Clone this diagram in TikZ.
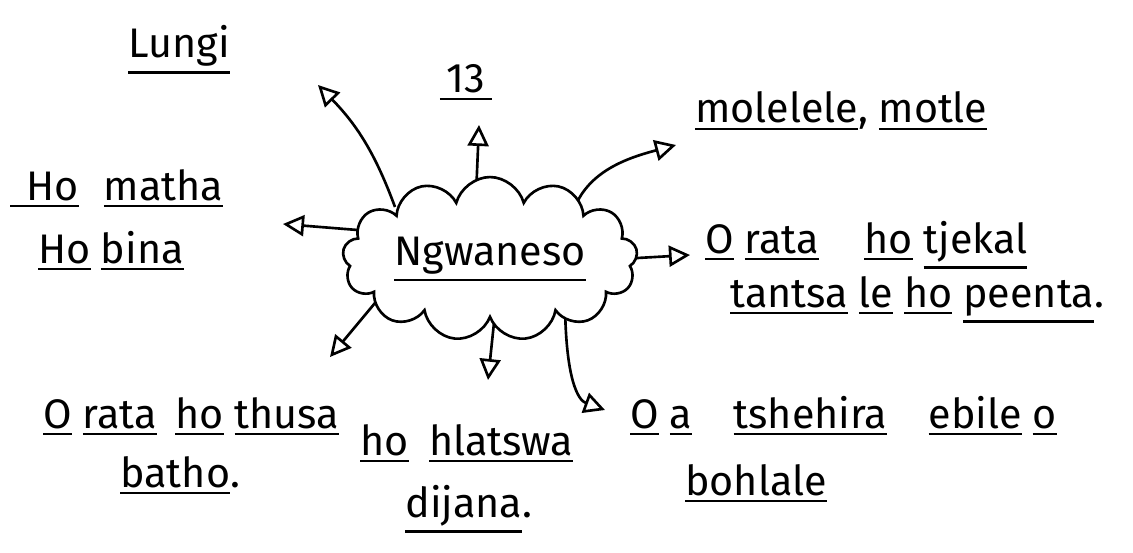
\documentclass[tikz,border=0pt]{standalone}
\usepackage{fontspec}
\setmainfont{Fira Sans}
\usetikzlibrary{arrows.meta, positioning, shapes.symbols, backgrounds}

% underlined word, rule below the descenders
\newcommand{\undl}[1]{\leavevmode\vtop{\hbox{#1}\kern2.5pt\hrule height 1.4pt}}

\tikzset{
  txt/.style={anchor=base west, inner sep=0pt, font=\fontsize{23.5}{28}\selectfont},
  arr/.style={-{Triangle[open, length=4.2mm, width=4.2mm]}, line width=1.5pt},
}

\begin{document}
\begin{tikzpicture}[x=0.02cm, y=0.02cm,
    cloudbox/.style={cloud, draw, fill=white, line width=1.5pt, cloud puffs=13, aspect=2.3,
                     minimum width=5.9cm, minimum height=2.6cm, inner sep=0pt,
                     font=\fontsize{23.5}{28}\selectfont}
  ]
  \useasboundingbox (0, 0) rectangle (1133, 552);

  % Center
  \node[cloudbox] (cld) at (490, 293) {\undl{Ngwaneso}};

  % Texts
  \node[txt] (lungi) at (128, 494) {\undl{Lungi}};
  \node[txt, anchor=base] (num) at (466, 459) {\undl{\,13\,}};
  \node[txt] (matha) at (10, 352) {\undl{\hspace{.4em}Ho}\hspace{.6em}\undl{matha}};
  \node[txt] (bina) at (38, 289) {\undl{Ho}\hspace{.25em}\undl{bina}};
  \node[txt] (motle) at (695, 429) {\undl{molelele}, \undl{motle}};
  \node[txt] (tjekal) at (705, 299) {\undl{O} \undl{rata}\hspace{1.1em}\undl{ho} \undl{tjekal}};
  \node[txt] (peenta) at (730, 245) {\undl{tantsa} \undl{le} \undl{ho} \undl{peenta}.};
  \node[txt] (thusa) at (43, 124) {\undl{O} \undl{rata}\hspace{.45em}\undl{ho} \undl{thusa}};
  \node[txt] (batho) at (120, 65) {\undl{batho}.};
  \node[txt] (hlatswa) at (360, 97) {\undl{ho}\hspace{.5em}\undl{hlatswa}};
  \node[txt] (dijana) at (405, 35) {\undl{dijana}.};
  \node[txt] (tshehira) at (630, 124) {\undl{O} \undl{a}\hspace{1em}\undl{tshehira}\hspace{1em}\undl{ebile} \undl{o}};
  \node[txt] (bohlale) at (685, 57) {\undl{bohlale}};

  % Arrow ends, just inside the cloud
  \coordinate (sa) at ([shift={(-95, 52)}]cld.center);
  \coordinate (sb) at ([shift={(-15, 40)}]cld.center);
  \coordinate (sc) at ([shift={(80, 35)}]cld.center);
  \coordinate (sd) at ([shift={(-120, 28)}]cld.center);
  \coordinate (se) at ([shift={(130, 0)}]cld.center);
  \coordinate (sf) at ([shift={(-110, -38)}]cld.center);
  \coordinate (sg) at ([shift={(7, -35)}]cld.center);
  \coordinate (sh) at ([shift={(75, -38)}]cld.center);

  % Arrow tips
  \coordinate (tipa) at (318, 467);
  \coordinate (tipb) at (479, 427);
  \coordinate (tipc) at (676, 407);
  \coordinate (tipd) at (283, 328);
  \coordinate (tipe) at (690, 297);
  \coordinate (tipf) at (330, 195);
  \coordinate (tipg) at (488, 172);
  \coordinate (tiph) at (605, 142);

  % Branches (behind the cloud)
  \begin{scope}[on background layer]
    \draw[arr] (sa) to[bend right=12] (tipa);
    \draw[arr] (sb) -- (tipb);
    \draw[arr] (sc) to[out=80, in=195] (tipc);
    \draw[arr] (sd) -- (tipd);
    \draw[arr] (se) -- (tipe);
    \draw[arr] (sf) -- (tipf);
    \draw[arr] (sg) -- (tipg);
    \draw[arr] (sh) to[out=-90, in=160, out looseness=1.8, in looseness=0.6] (tiph);
  \end{scope}

\end{tikzpicture}
\end{document}
